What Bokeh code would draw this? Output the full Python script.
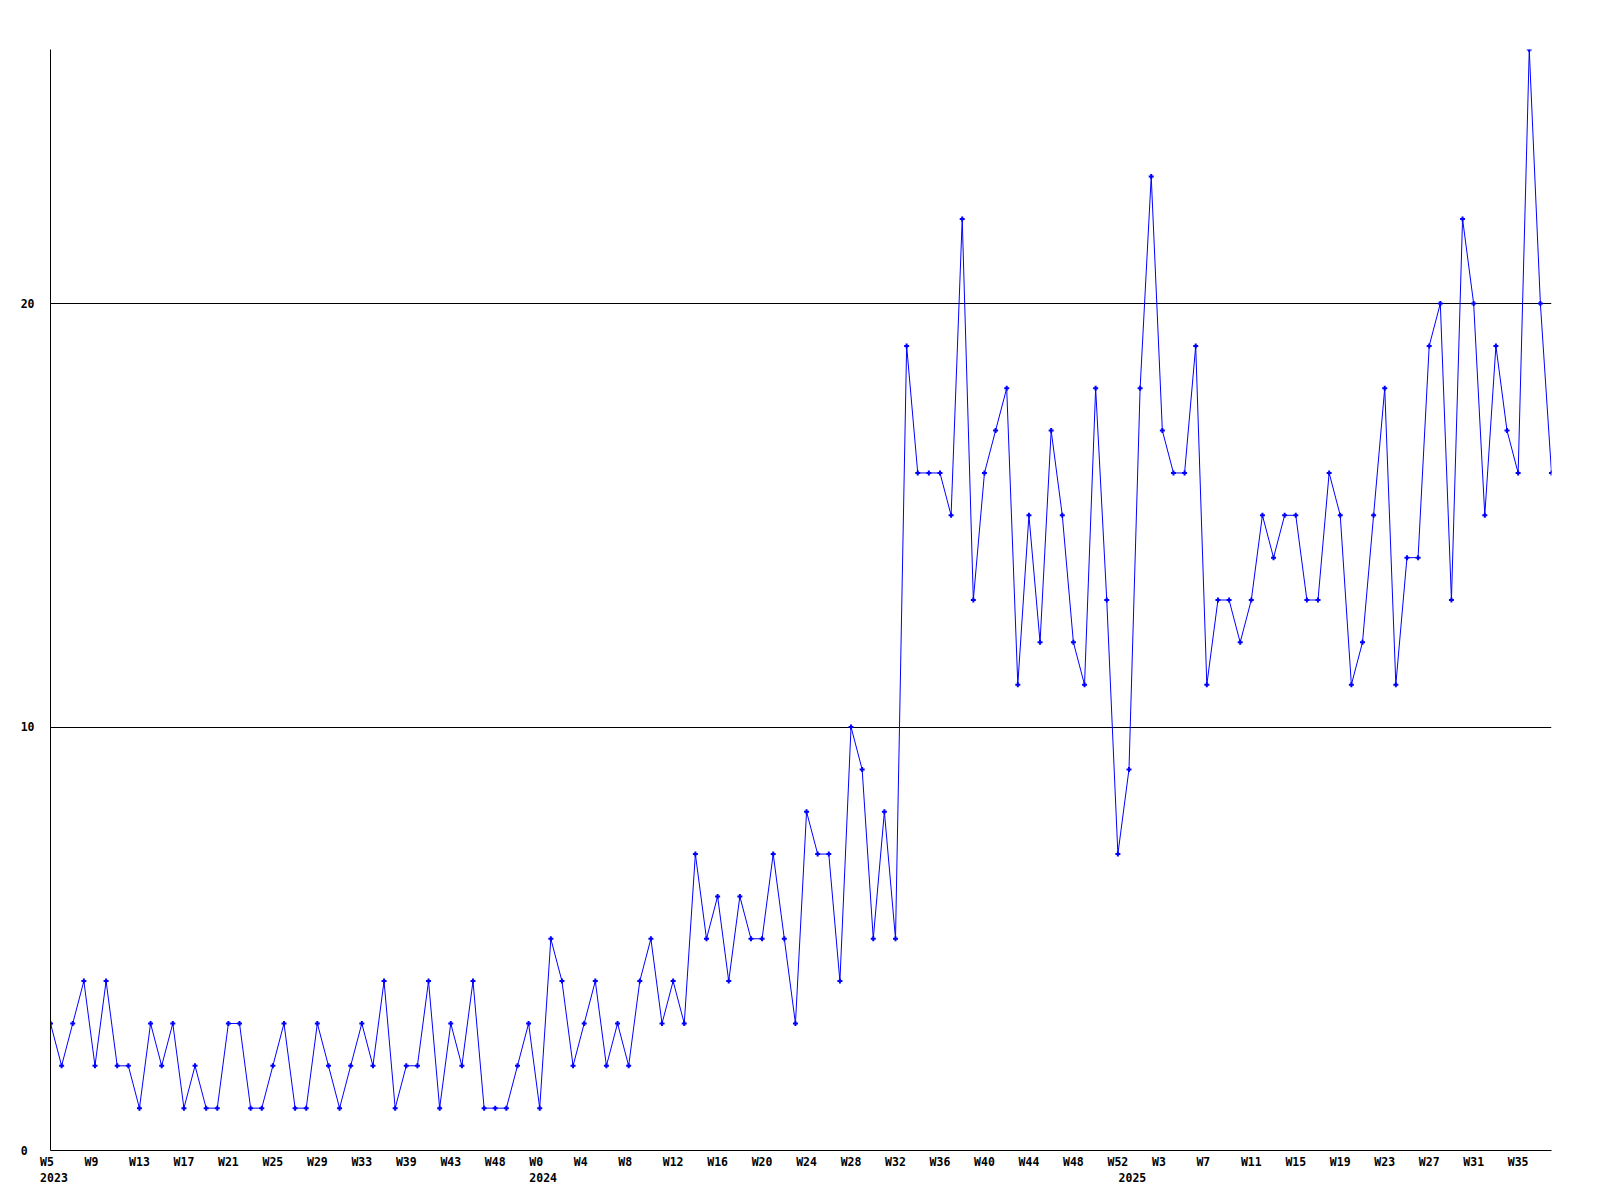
from bokeh.plotting import figure
from bokeh.models import Range1d, FixedTicker, LinearAxis
from bokeh.embed import file_html
from bokeh.resources import INLINE

# ---- data ----
week_labels = ["W5", "W9", "W13", "W17", "W21", "W25", "W29", "W33", "W39", "W43", "W48",
               "W0", "W4", "W8", "W12", "W16", "W20", "W24", "W28", "W32", "W36", "W40",
               "W44", "W48", "W52",
               "W3", "W7", "W11", "W15", "W19", "W23", "W27", "W31", "W35"]
year_labels = ["2023", "2024", "2025"]
year_index = [0, 44, 97]
values = [3, 2, 3, 4, 2, 4, 2, 2, 1, 3, 2, 3, 1, 2, 1, 1, 3, 3, 1, 1,
          2, 3, 1, 1, 3, 2, 1, 2, 3, 2, 4, 1, 2, 2, 4, 1, 3, 2, 4, 1,
          1, 1, 2, 3, 1, 5, 4, 2, 3, 4, 2, 3, 2, 4, 5, 3, 4, 3, 7, 5,
          6, 4, 6, 5, 5, 7, 5, 3, 8, 7, 7, 4, 10, 9, 5, 8, 5, 19, 16, 16,
          16, 15, 22, 13, 16, 17, 18, 11, 15, 12, 17, 15, 12, 11, 18, 13, 7, 9, 18, 23,
          17, 16, 16, 19, 11, 13, 13, 12, 13, 15, 14, 15, 15, 13, 13, 16, 15, 11, 12, 15,
          18, 11, 14, 14, 19, 20, 13, 22, 20, 15, 19, 17, 16, 26, 20, 16]
y_ticks = [0, 10, 20]
y_max = 26

xs = list(range(len(values)))
week_ticks = [4 * k for k in range(len(week_labels))]

FONT = "DejaVu Sans Mono"
FSIZE = "11.5px"
NB = "\u00a0"

p = figure(frame_width=1501, frame_height=1101,
           x_range=Range1d(0, len(values) - 1), y_range=Range1d(0, y_max),
           output_backend="svg", toolbar_location=None,
           min_border_left=50, min_border_top=49, min_border_right=40, min_border_bottom=10)
p.outline_line_color = None


def style(ax):
    ax.major_tick_line_color = None
    ax.minor_tick_line_color = None
    ax.major_tick_out = 0
    ax.major_tick_in = 0
    ax.minor_tick_out = 0
    ax.minor_tick_in = 0
    ax.major_label_text_font = FONT
    ax.major_label_text_font_style = "bold"
    ax.major_label_text_font_size = FSIZE
    ax.major_label_text_color = "black"


# y axis (labels start at the same column; pad the short one)
yax = p.yaxis[0]
style(yax)
yax.axis_line_color = "black"
yax.ticker = FixedTicker(ticks=y_ticks)
yax.major_label_overrides = {t: (str(t) + NB if len(str(t)) < 2 else str(t)) for t in y_ticks}
yax.major_label_standoff = 16

# week axis (labels padded to 3 chars so they start left of the point)
xax = p.xaxis[0]
style(xax)
xax.axis_line_color = "black"
xax.ticker = FixedTicker(ticks=week_ticks)
xax.major_label_overrides = {t: l.ljust(3, NB) for t, l in zip(week_ticks, week_labels)}
xax.major_label_standoff = 4

# year axis
yr = LinearAxis(ticker=FixedTicker(ticks=year_index),
                major_label_overrides={t: NB + l for t, l in zip(year_index, year_labels)})
style(yr)
yr.axis_line_color = None
yr.major_label_standoff = -1
p.add_layout(yr, "below")

# grid
p.xgrid.visible = False
p.ygrid.ticker = FixedTicker(ticks=y_ticks)
p.ygrid.grid_line_color = "black"
p.ygrid.grid_line_width = 1

p.line(xs, values, line_color="#0000FF", line_width=1)
p.scatter(xs, values, marker="cross", size=5, line_color="#0000FF", line_width=2)

open("out.html", "w").write(file_html(p, INLINE))
